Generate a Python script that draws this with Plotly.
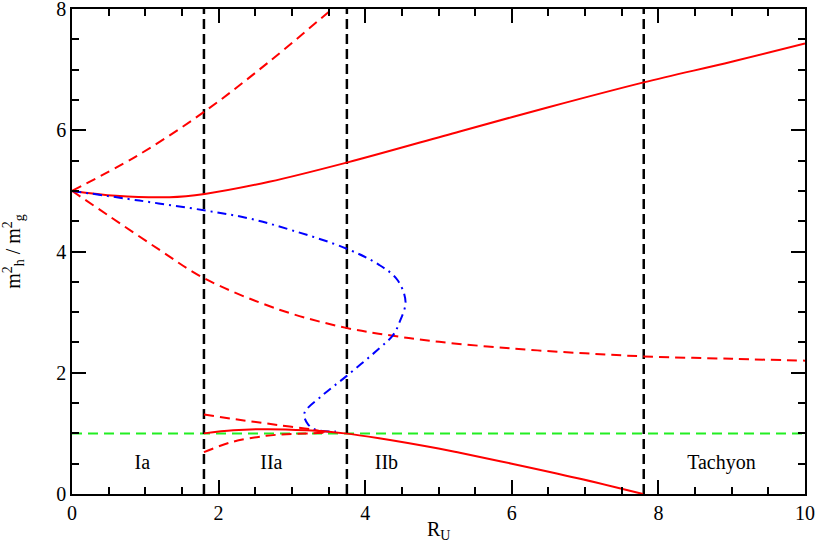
import plotly.graph_objects as go

# region boundaries on R_U
bounds = [1.8, 3.75, 7.8]

# upper red branch (solid)
up_x = [0, 0.6, 1.33, 1.81, 2.69, 3.76, 5.29, 6.5, 7.8, 9.0, 10.0]
up_y = [5.0, 4.92, 4.896, 4.95, 5.15, 5.47, 5.98, 6.38, 6.79, 7.13, 7.43]

# upper red branch (dashed), leaves the frame at the top
upd_x = [0, 0.876, 1.81, 2.69, 3.54, 3.7]
upd_y = [5.0, 5.57, 6.31, 7.13, 7.99, 8.15]

# lower red branch (dashed)
lod_x = [0, 0.5, 1.19, 1.8, 2.83, 3.74, 4.38, 5.01, 6.0, 7.0, 7.8, 9.0, 10.0]
lod_y = [5.0, 4.59, 4.03, 3.56, 3.04, 2.74, 2.61, 2.51, 2.40, 2.32, 2.27, 2.23, 2.2]

# blue dash-dot branch, folds back on itself
blue_x = [0, 0.92, 1.8, 2.4, 3.0, 3.74, 4.19, 4.44, 4.55, 4.47, 4.38, 4.19, 3.74,
          3.42, 3.17, 3.22, 3.33, 3.6]
blue_y = [5.0, 4.84, 4.68, 4.55, 4.35, 4.05, 3.78, 3.53, 3.17, 2.84, 2.62, 2.40,
          1.94, 1.63, 1.33, 1.15, 1.06, 1.03]

# low red branch (solid)
low_x = [1.8, 2.2, 2.65, 3.2, 3.72, 4.19, 5.0, 5.29, 6.0, 6.9, 7.79]
low_y = [1.0, 1.05, 1.07, 1.05, 1.0, 0.92, 0.75, 0.68, 0.5, 0.26, 0.0]

# two short dashed pieces in region IIa
sa_x = [1.8, 2.3, 2.8, 3.29, 3.45]
sa_y = [1.31, 1.22, 1.14, 1.06, 1.02]
sb_x = [1.8, 2.19, 2.65, 3.0, 3.29, 3.45]
sb_y = [0.69, 0.86, 0.96, 0.99, 1.0, 1.01]

# horizontal reference level
ref_level = 1.0

region_names = ["Ia", "IIa", "IIb", "Tachyon"]
region_x = [0.96, 2.72, 4.29, 8.86]
region_y = [0.5, 0.5, 0.5, 0.5]

RED = "#ff0000"
BLUE = "#0000ff"
GREEN = "#22ee22"

fig = go.Figure()

fig.add_trace(go.Scatter(x=[0, 10], y=[ref_level, ref_level], mode="lines",
                         line=dict(color=GREEN, width=2, dash="10px,6px")))

for b in bounds:
    fig.add_trace(go.Scatter(x=[b, b], y=[0, 8], mode="lines",
                             line=dict(color="black", width=2.5, dash="10px,5px")))

fig.add_trace(go.Scatter(x=up_x, y=up_y, mode="lines", line_shape="spline",
                         line=dict(color=RED, width=2)))
fig.add_trace(go.Scatter(x=upd_x, y=upd_y, mode="lines", line_shape="spline",
                         line=dict(color=RED, width=2, dash="10px,6px")))
fig.add_trace(go.Scatter(x=lod_x, y=lod_y, mode="lines", line_shape="spline",
                         line=dict(color=RED, width=2, dash="10px,6px")))
fig.add_trace(go.Scatter(x=blue_x, y=blue_y, mode="lines", line_shape="spline",
                         line=dict(color=BLUE, width=2, dash="9px,5px,2px,5px")))
fig.add_trace(go.Scatter(x=low_x, y=low_y, mode="lines", line_shape="spline",
                         line=dict(color=RED, width=2)))
fig.add_trace(go.Scatter(x=sa_x, y=sa_y, mode="lines", line_shape="spline",
                         line=dict(color=RED, width=2, dash="10px,6px")))
fig.add_trace(go.Scatter(x=sb_x, y=sb_y, mode="lines", line_shape="spline",
                         line=dict(color=RED, width=2, dash="10px,6px")))

fig.add_trace(go.Scatter(x=region_x, y=region_y, mode="text", text=region_names,
                         textfont=dict(size=20, color="black")))

axis_common = dict(
    showgrid=False, zeroline=False, showline=True, linecolor="black", linewidth=1.5,
    mirror="ticks", ticks="inside", ticklen=14, tickwidth=1.5, tickcolor="black",
    minor=dict(ticks="inside", ticklen=7, tickwidth=1.5, tickcolor="black"),
    tickfont=dict(size=20, color="black"), automargin=False,
    ticklabeloverflow="allow",
)

fig.update_xaxes(range=[0, 10], dtick=2, minor_dtick=0.5, **axis_common)
fig.update_yaxes(range=[0, 8], dtick=2, minor_dtick=0.5, **axis_common)

# axis titles as annotations so they sit exactly where the original has them
fig.add_annotation(text="R<sub>U</sub>", xref="paper", yref="paper", x=0.5, y=-0.075,
                   xanchor="center", yanchor="middle", showarrow=False,
                   font=dict(size=20, color="black"))
fig.add_annotation(text="m<sup>2</sup><sub>h</sub> / m<sup>2</sup><sub>g</sub>",
                   xref="paper", yref="paper", x=-0.08, y=0.5, textangle=-90,
                   xanchor="center", yanchor="middle", showarrow=False,
                   font=dict(size=20, color="black"))

fig.update_layout(
    width=817, height=545,
    margin=dict(l=72, r=12, t=9, b=51),
    showlegend=False,
    plot_bgcolor="white", paper_bgcolor="white",
    font=dict(family="Liberation Serif, Times New Roman, serif", color="black"),
)

fig.write_html("out.html", config={"displayModeBar": False},
               post_script="document.body.style.margin='0';")
